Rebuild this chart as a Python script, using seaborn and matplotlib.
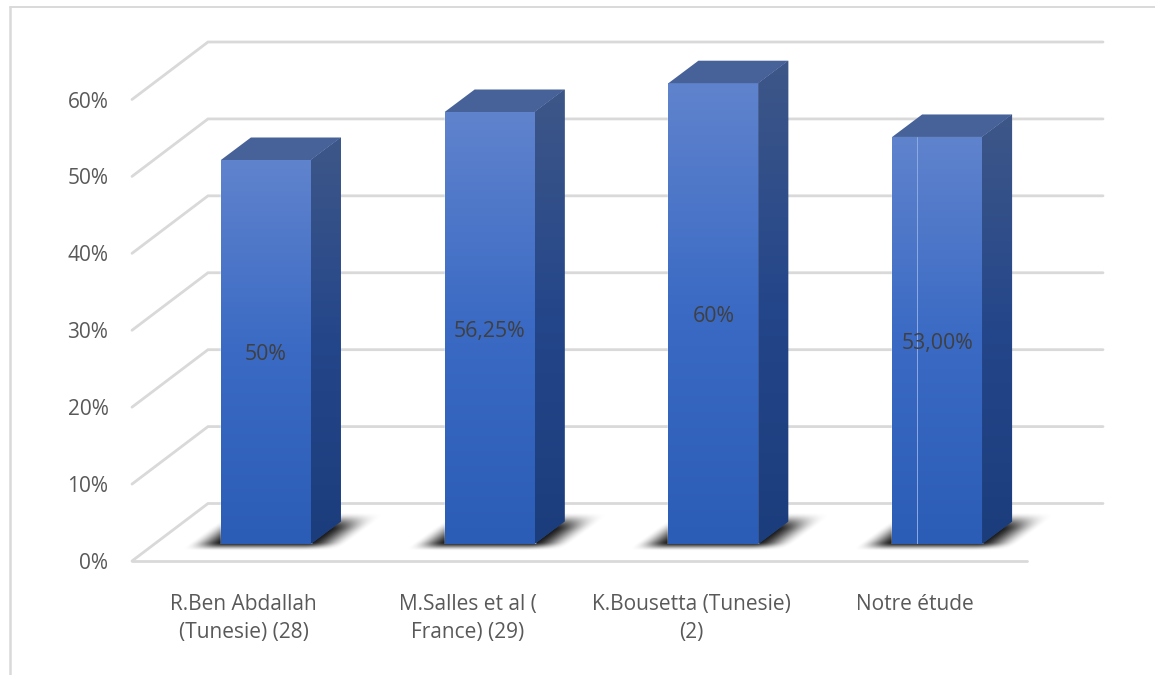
import numpy as np
import matplotlib
matplotlib.use("Agg")
import matplotlib.pyplot as plt
from matplotlib.colors import LinearSegmentedColormap
from matplotlib.lines import Line2D
from matplotlib.patches import Polygon
import seaborn as sns

categories = ["R.Ben Abdallah\n(Tunesie) (28)", "M.Salles et al (\nFrance) (29)",
              "K.Bousetta (Tunesie)\n(2)", "Notre étude"]
values = [50, 56.25, 60, 53]
value_labels = ["50%", "56,25%", "60%", "53,00%"]
y_ticks = [0, 10, 20, 30, 40, 50, 60]
y_tick_labels = ["0%", "10%", "20%", "30%", "40%", "50%", "60%"]

W, H = 1155, 675
sns.set_theme(style="white")
plt.rcParams["font.family"] = ["Open Sans", "DejaVu Sans"]

fig = plt.figure(figsize=(W / 100, H / 100), dpi=100, facecolor="white")


def axes_px(left, right, top, bottom):
    return fig.add_axes([left / W, 1 - bottom / H, (right - left) / W, (bottom - top) / H])


GRID = "#d9d9d9"
PX_X = 895 / 4       # pixels per category
PX_Y = 461.5 / 60    # pixels per percent, front plane
BAR_PX_Y = 7.68      # pixels per percent, bar plane
Y_TOP = 72           # room above the tallest bar for its depth faces

# Front plane: axis labels, floor and walls
axf = axes_px(132, 1027, 99.5, 561)
axf.set_xlim(-0.5, 3.5)
axf.set_ylim(0, 60)
axf.patch.set_alpha(0)
for s in axf.spines.values():
    s.set_visible(False)
axf.set_xticks(range(len(categories)))
axf.set_xticklabels(categories, fontsize=15, color="#595959", linespacing=1.43)
axf.set_yticks(y_ticks)
axf.set_yticklabels(y_tick_labels, fontsize=15, color="#595959")
axf.tick_params(axis="both", length=0)
axf.tick_params(axis="y", pad=17)
axf.tick_params(axis="x", pad=24)

back_dx, back_dy = 76 / PX_X, 57.5 / PX_Y
for v in y_ticks:
    axf.plot([-0.5, -0.5 + back_dx, 3.5 + back_dx], [v, v + back_dy, v + back_dy],
             color=GRID, lw=2.0, clip_on=False, solid_joinstyle="miter", zorder=1)
axf.plot([-0.5, 3.5], [0, 0], color=GRID, lw=2.0, clip_on=False, zorder=1)

# Bar plane, set back from the front plane
ax = axes_px(132 + 22, 1027 + 22, 544 - Y_TOP * BAR_PX_Y, 544)
ax.patch.set_alpha(0)
sns.barplot(x=categories, y=values, ax=ax, width=0.402, color="#2b5db8", saturation=1, zorder=3)
ax.set_axis_off()

front_cmap = LinearSegmentedColormap.from_list("f", ["#2b5cb6", "#3a6ac4", "#6083cd"])
side_cmap = LinearSegmentedColormap.from_list("s", ["#1c3d7c", "#24468a", "#3e5788"])
grad = np.linspace(1, 0, 256).reshape(-1, 1)
depth_x, depth_y = 30 / PX_X, 22.5 / BAR_PX_Y


def ramp(t):
    t = np.clip(t, 0, 1)
    return t * t * (3 - 2 * t)


def shadow_rgba(width_px):
    # blurred sheared floor shadow, sampled in pixels around the bar's base
    xs = np.arange(-40, width_px + 80) + 0.5
    ys = np.arange(36, -12, -1) - 0.5
    gx, gy = np.meshgrid(xs, ys)
    u = gx - 1.36 * gy
    a = (ramp((u + 34) / 36) * ramp((width_px + 36 - u) / 40)
         * ramp((gy + 7) / 9) * ramp((32 - gy) / 18))
    rgba = np.zeros(a.shape + (4,))
    rgba[..., 3] = a * 0.92
    return rgba, (xs[0] - 0.5, xs[-1] + 0.5, ys[-1] - 0.5, ys[0] + 0.5)


for bar in list(ax.patches):
    x0, w, h = bar.get_x(), bar.get_width(), bar.get_height()
    x1 = x0 + w
    rgba, (l, r, b, t) = shadow_rgba(w * PX_X)
    ax.imshow(rgba, aspect="auto", extent=(x0 + l / PX_X, x0 + r / PX_X, b / BAR_PX_Y, t / BAR_PX_Y),
              interpolation="bilinear", clip_on=False, zorder=2)
    bar.set_zorder(3)
    im = ax.imshow(grad, cmap=front_cmap, vmin=0, vmax=1, aspect="auto",
                   extent=(x0, x1, 0, h), zorder=4)
    im.set_clip_path(bar)
    side = Polygon([(x1, 0), (x1 + depth_x, depth_y), (x1 + depth_x, h + depth_y), (x1, h)],
                   closed=True, fc="#24468a", ec="none", zorder=3)
    ax.add_patch(side)
    im2 = ax.imshow(grad, cmap=side_cmap, vmin=0, vmax=1, aspect="auto",
                    extent=(x1, x1 + depth_x, 0, h + depth_y), zorder=4)
    im2.set_clip_path(side)
    ax.add_patch(Polygon([(x0, h), (x1, h), (x1 + depth_x, h + depth_y), (x0 + depth_x, h + depth_y)],
                         closed=True, fc="#476299", ec="none", zorder=4))
ax.set_xlim(-0.5, 3.5)
ax.set_ylim(0, Y_TOP)

bars = ax.patches[:len(values)]
# faint light seam on the last bar's front face
seam_x = bars[3].get_x() + 24.5 / PX_X
ax.plot([seam_x, seam_x], [0, bars[3].get_height()], color="#8fabe3", lw=0.7, zorder=5)

for b, lab in zip(bars, value_labels):
    ax.text(b.get_x() + b.get_width() / 2, b.get_height() / 2 - 3 / BAR_PX_Y, lab,
            ha="center", va="center", fontsize=15.3, color="#404040", zorder=6)

# Chart frame: left and top edges only
fig.add_artist(Line2D([9.5 / W, 9.5 / W], [0, 1 - 7 / H], color=GRID, lw=1.8))
fig.add_artist(Line2D([9.5 / W, 1], [1 - 6.5 / H, 1 - 6.5 / H], color=GRID, lw=1.4))

fig.savefig("out.png", dpi=100, facecolor="white")
